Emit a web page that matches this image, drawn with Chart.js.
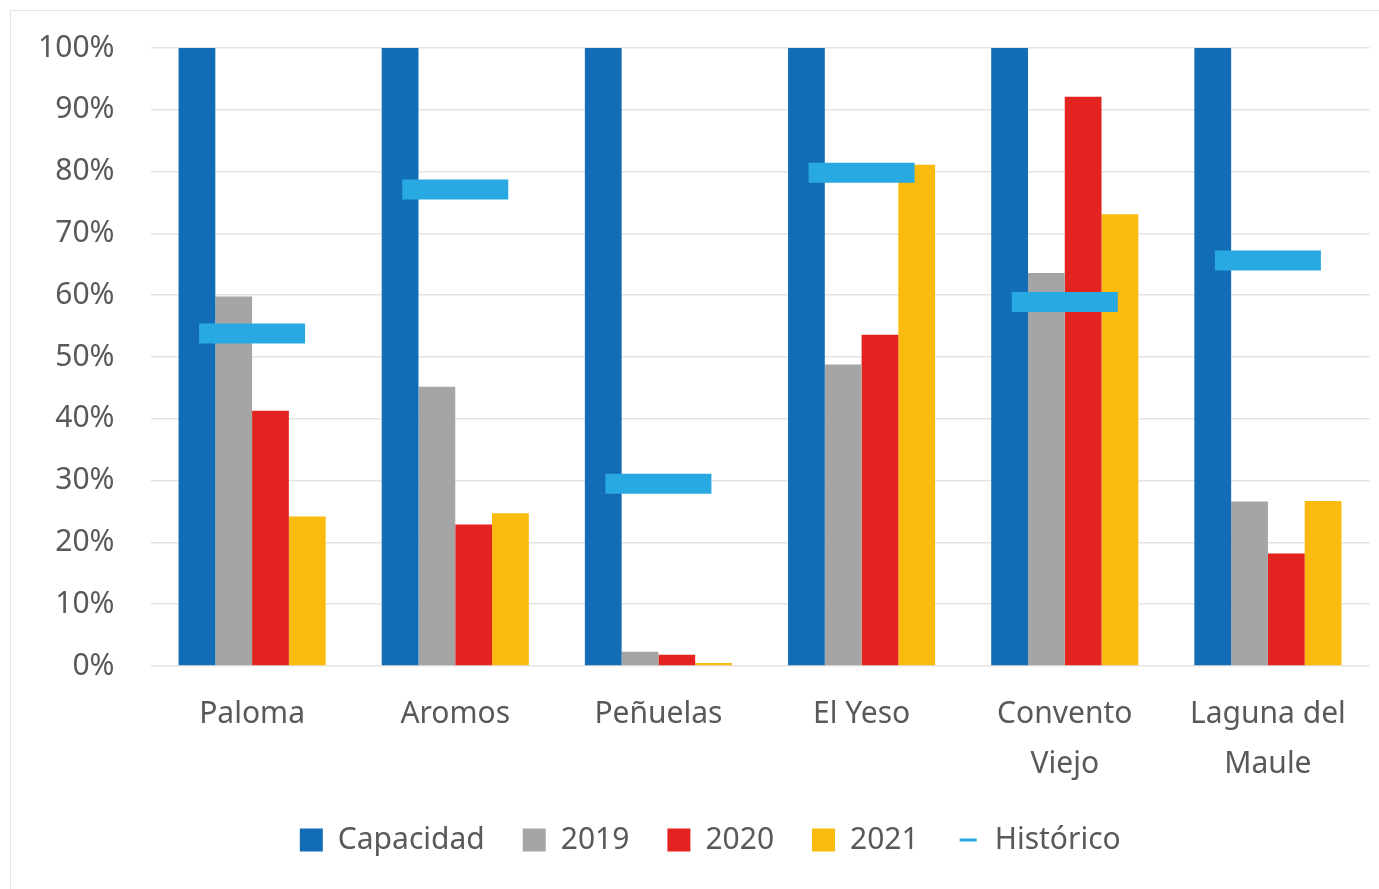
<!DOCTYPE html>
<html>
<head>
<meta charset="utf-8">
<script src="https://cdn.jsdelivr.net/npm/chart.js@4.4.1/dist/chart.umd.min.js"></script>
<style>
  html, body { margin: 0; padding: 0; background: #fff; }
  #frame { position: absolute; left: 10px; top: 10px; width: 1400px; height: 900px;
           border-left: 1px solid #e3e3e3; border-top: 1px solid #e3e3e3; }
  #wrap { position: absolute; left: 11px; top: 11px; width: 1368px; height: 878px; }
</style>
</head>
<body>
<div id="frame"></div>
<div id="wrap"><canvas id="myChart"></canvas></div>
<script>
var categories = ['Paloma', 'Aromos', 'Peñuelas', 'El Yeso', ['Convento', 'Viejo'], ['Laguna del', 'Maule']];
var capacidad = [100, 100, 100, 100, 100, 100];
var y2019 = [59.8, 45.2, 2.3, 48.8, 63.6, 26.6];
var y2020 = [41.3, 22.9, 1.8, 53.6, 92.1, 18.2];
var y2021 = [24.2, 24.7, 0.5, 81.1, 73.1, 26.7];
var historico = [53.8, 77.1, 29.5, 79.8, 58.9, 65.6];
var yTicks = [0, 10, 20, 30, 40, 50, 60, 70, 80, 90, 100];

var textColor = '#595959';
var fontFamily = '"Noto Sans", sans-serif';

// small image for the Histórico legend mark
var histMark = document.createElement('canvas');
histMark.width = 23;
histMark.height = 23;
var hctx = histMark.getContext('2d');
hctx.fillStyle = '#29A9E1';
hctx.fillRect(3, 10, 17, 3);

function barSet(label, data, color) {
  return {
    label: label,
    data: data,
    backgroundColor: color,
    borderWidth: 0,
    pointStyle: 'rect',
    order: 1
  }
}

// nudge the legend to where it sits in the original
var legendNudge = {
  id: 'legendNudge',
  afterLayout: function (chart) {
    var lg = chart.legend;
    lg.top -= 17; lg.bottom -= 17;
    lg.left += 20; lg.right += 20;
  }
};

var ctx = document.getElementById('myChart');
var myChart = new Chart(ctx, {
  type: 'bar',
  data: {
    labels: categories,
    datasets: [
      barSet('Capacidad', capacidad, '#126DB6'),
      barSet('2019', y2019, '#A5A5A5'),
      barSet('2020', y2020, '#E2231F'),
      barSet('2021', y2021, '#FBBA0E'),
      {
        type: 'line',
        label: 'Histórico',
        data: historico,
        showLine: false,
        pointStyle: 'line',
        pointRadius: 53,
        pointHoverRadius: 53,
        pointBorderWidth: 20,
        pointHoverBorderWidth: 20,
        borderColor: '#29A9E1',
        backgroundColor: '#29A9E1',
        clip: false,
        order: 0
      }
    ]
  },
  plugins: [legendNudge],
  options: {
    responsive: true,
    maintainAspectRatio: false,
    animation: false,
    events: [],
    categoryPercentage: 0.724,
    barPercentage: 1,
    layout: { autoPadding: false, padding: { top: 0, right: 9.5, bottom: 7, left: 0 } },
    plugins: {
      tooltip: { enabled: false },
      legend: {
        position: 'bottom',
        labels: {
          color: textColor,
          font: { family: fontFamily, size: 30 },
          usePointStyle: true,
          boxWidth: 23,
          boxHeight: 23,
          padding: 38,
          generateLabels: function (chart) {
            var items = Chart.defaults.plugins.legend.labels.generateLabels(chart);
            items.sort(function (a, b) { return a.datasetIndex - b.datasetIndex });
            items.forEach(function (it) {
              it.lineWidth = 0;
              if (it.text === 'Histórico') it.pointStyle = histMark;
            });
            return items;
          }
        }
      }
    },
    scales: {
      x: {
        grid: { display: false },
        border: { display: false },
        ticks: {
          color: textColor,
          font: { family: fontFamily, size: 30, lineHeight: 1.667 },
          padding: 15,
          maxRotation: 0,
          autoSkip: false
        }
      },
      y: {
        min: 0,
        max: 100,
        afterFit: function (scale) {
          scale.width = 139.5;
          scale.paddingTop = 37;
          scale.paddingBottom = 0;
        },
        afterBuildTicks: function (scale) {
          scale.ticks = yTicks.map(function (v) { return { value: v } });
        },
        grid: { color: '#e4e4e4', lineWidth: 1.5, drawTicks: false },
        border: { display: false },
        ticks: {
          color: textColor,
          font: { family: fontFamily, size: 30 },
          padding: 36,
          callback: function (v) { return v + '%' }
        }
      }
    }
  }
});
</script>
</body>
</html>
